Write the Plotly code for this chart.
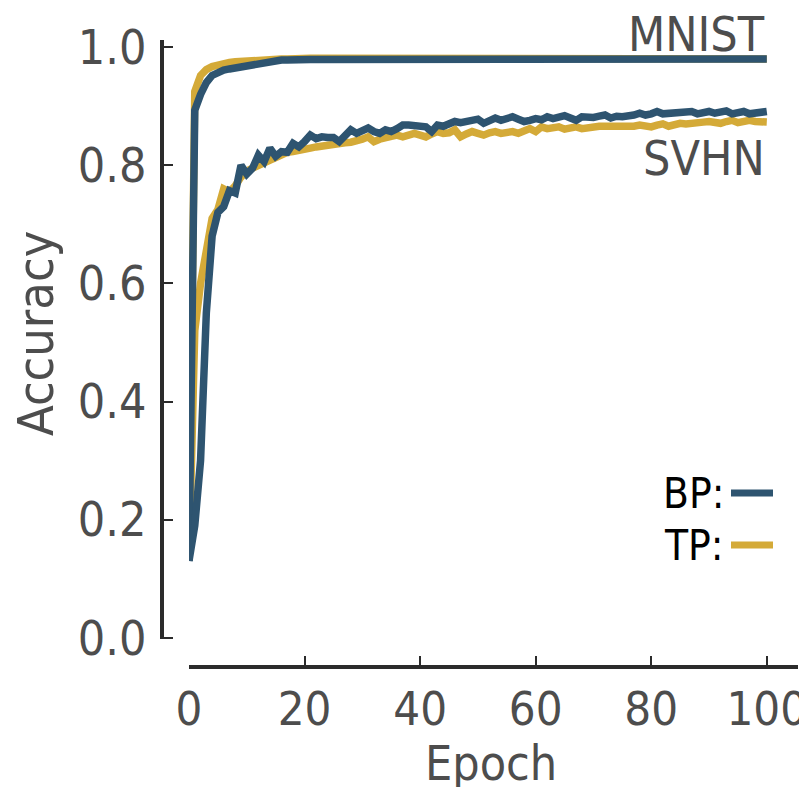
import plotly.graph_objects as go

epochs = list(range(101))

mnist_bp = [0.13, 0.893, 0.920, 0.940, 0.952, 0.958, 0.961, 0.963, 0.965, 0.966,
            0.967, 0.969, 0.971, 0.973, 0.975, 0.977, 0.978, 0.978, 0.979, 0.979,
            0.979, 0.979, 0.979, 0.979, 0.980, 0.980, 0.980, 0.980, 0.980, 0.980,
            0.980, 0.980, 0.980, 0.980, 0.980, 0.980, 0.980, 0.980, 0.980, 0.980,
            0.980, 0.980, 0.980, 0.980, 0.980, 0.980, 0.980, 0.980, 0.980, 0.980,
            0.980, 0.980, 0.980, 0.980, 0.980, 0.980, 0.980, 0.980, 0.980, 0.980,
            0.980, 0.980, 0.980, 0.980, 0.980, 0.980, 0.980, 0.980, 0.980, 0.980,
            0.980, 0.980, 0.980, 0.980, 0.980, 0.980, 0.980, 0.980, 0.980, 0.980,
            0.980, 0.980, 0.980, 0.980, 0.980, 0.980, 0.980, 0.980, 0.980, 0.980,
            0.980, 0.980, 0.980, 0.980, 0.980, 0.980, 0.980, 0.980, 0.980, 0.980,
            0.980]

mnist_tp = [0.13, 0.925, 0.952, 0.962, 0.967, 0.970, 0.972, 0.974, 0.975, 0.976,
            0.977, 0.978, 0.978, 0.978, 0.979, 0.979, 0.980, 0.980, 0.981, 0.981,
            0.981, 0.981, 0.981, 0.981, 0.981, 0.981, 0.981, 0.981, 0.980, 0.980,
            0.980, 0.980, 0.980, 0.980, 0.980, 0.980, 0.980, 0.980, 0.980, 0.980,
            0.980, 0.980, 0.980, 0.980, 0.980, 0.980, 0.980, 0.980, 0.980, 0.980,
            0.980, 0.980, 0.980, 0.980, 0.980, 0.980, 0.980, 0.980, 0.980, 0.980,
            0.980, 0.980, 0.980, 0.980, 0.980, 0.980, 0.980, 0.980, 0.980, 0.980,
            0.980, 0.980, 0.980, 0.980, 0.980, 0.980, 0.980, 0.980, 0.980, 0.980,
            0.980, 0.980, 0.980, 0.980, 0.980, 0.980, 0.980, 0.980, 0.980, 0.980,
            0.980, 0.980, 0.980, 0.980, 0.980, 0.980, 0.980, 0.980, 0.980, 0.980,
            0.980]

svhn_bp = [0.13, 0.19, 0.30, 0.55, 0.68, 0.72, 0.73, 0.757, 0.753, 0.800,
           0.785, 0.795, 0.817, 0.806, 0.829, 0.815, 0.823, 0.822, 0.837, 0.831,
           0.840, 0.851, 0.845, 0.848, 0.847, 0.847, 0.840, 0.852, 0.860, 0.854,
           0.860, 0.863, 0.857, 0.854, 0.860, 0.857, 0.862, 0.868, 0.868, 0.868,
           0.867, 0.865, 0.857, 0.868, 0.866, 0.869, 0.874, 0.872, 0.875, 0.876,
           0.878, 0.871, 0.876, 0.880, 0.876, 0.879, 0.882, 0.878, 0.874, 0.876,
           0.879, 0.877, 0.882, 0.879, 0.880, 0.884, 0.880, 0.876, 0.882, 0.881,
           0.881, 0.883, 0.885, 0.880, 0.883, 0.882, 0.882, 0.885, 0.888, 0.885,
           0.887, 0.891, 0.887, 0.888, 0.889, 0.887, 0.889, 0.891, 0.887, 0.889,
           0.891, 0.888, 0.890, 0.892, 0.887, 0.889, 0.891, 0.887, 0.889, 0.889,
           0.891]

svhn_tp = [0.13, 0.52, 0.60, 0.65, 0.71, 0.725, 0.76, 0.755, 0.765, 0.780,
           0.790, 0.795, 0.800, 0.805, 0.810, 0.812, 0.818, 0.822, 0.823, 0.826,
           0.826, 0.829, 0.831, 0.833, 0.834, 0.835, 0.837, 0.838, 0.839, 0.840,
           0.844, 0.848, 0.840, 0.844, 0.848, 0.849, 0.851, 0.848, 0.851, 0.854,
           0.851, 0.848, 0.853, 0.857, 0.854, 0.855, 0.860, 0.848, 0.853, 0.857,
           0.854, 0.851, 0.855, 0.857, 0.854, 0.856, 0.857, 0.854, 0.859, 0.862,
           0.857, 0.865, 0.862, 0.864, 0.865, 0.861, 0.863, 0.865, 0.862, 0.864,
           0.865, 0.866, 0.866, 0.866, 0.867, 0.866, 0.864, 0.866, 0.868, 0.867,
           0.865, 0.868, 0.870, 0.866, 0.869, 0.871, 0.870, 0.870, 0.872, 0.873,
           0.874, 0.872, 0.871, 0.874, 0.876, 0.872, 0.874, 0.876, 0.874, 0.874,
           0.873]

x_ticks = [0, 20, 40, 60, 80, 100]
y_ticks = [0.0, 0.2, 0.4, 0.6, 0.8, 1.0]
y_tick_labels = ["0.0", "0.2", "0.4", "0.6", "0.8", "1.0"]

BP_COLOR = "#2e5470"
TP_COLOR = "#d4aa38"
TEXT_COLOR = "#4d4d4d"
AXIS_COLOR = "#2b2b2b"
FONT = "DejaVu Sans Condensed, DejaVu Sans"
FS = 48

fig = go.Figure()
for ys in (mnist_tp, svhn_tp):
    fig.add_trace(go.Scatter(x=epochs, y=ys, mode="lines",
                             line=dict(color=TP_COLOR, width=7.5), showlegend=False))
for ys in (mnist_bp, svhn_bp):
    fig.add_trace(go.Scatter(x=epochs, y=ys, mode="lines",
                             line=dict(color=BP_COLOR, width=7.5), showlegend=False))

# page body has an 8px margin: figure is drawn offset by (8, 8)
OFF = 8
W, H = 807 - OFF, 787 - OFF
# targets in page pixels
AX_Y_X = 162      # y-axis line x
AX_X_Y = 667      # x-axis line y
ml, mr, mt, mb = AX_Y_X - OFF, 807 - 798, 40 - OFF, 787 - AX_X_Y
pw, ph = W - ml - mr, H - mt - mb

def py(ypx):
    return (H - mb - (ypx - OFF)) / ph

def px(xpx):
    return ((xpx - OFF) - ml) / pw

fig.update_layout(
    width=W, height=H,
    margin=dict(l=ml, r=mr, t=mt, b=mb, autoexpand=False),
    paper_bgcolor="white", plot_bgcolor="white",
    font=dict(family=FONT, size=FS, color=TEXT_COLOR),
    xaxis=dict(domain=[px(189), 1], anchor="free", position=0, automargin=False,
               range=[0, 105.4], tickvals=x_ticks, ticks="inside", ticklen=9,
               tickwidth=1.5, tickcolor=AXIS_COLOR, showline=True, linewidth=4,
               linecolor=AXIS_COLOR, showgrid=False, zeroline=False,
               ticklabeloverflow="allow",
               tickfont=dict(family=FONT, size=47, color=TEXT_COLOR)),
    yaxis=dict(domain=[py(639), 1], anchor="free", position=0, automargin=False,
               range=[-0.002, 1.012], tickvals=y_ticks, ticktext=y_tick_labels,
               ticks="inside", ticklen=9, tickwidth=1.5, tickcolor=AXIS_COLOR,
               showline=True, linewidth=4, linecolor=AXIS_COLOR,
               showgrid=False, zeroline=False, ticklabelstandoff=4,
               ticklabeloverflow="allow",
               tickfont=dict(family=FONT, size=FS, color=TEXT_COLOR)),
)

# axis titles
fig.add_annotation(x=px(491), y=py(763), xref="paper", yref="paper", text="Epoch",
                   showarrow=False, xanchor="center", yanchor="middle",
                   font=dict(family=FONT, size=FS, color=TEXT_COLOR))
fig.add_annotation(x=px(36), y=py(333), xref="paper", yref="paper", text="Accuracy",
                   showarrow=False, xanchor="center", yanchor="middle", textangle=-90,
                   font=dict(family=FONT, size=50, color=TEXT_COLOR))

fig.add_annotation(x=px(767), y=py(34), xref="paper", yref="paper", text="MNIST",
                   showarrow=False, xanchor="right", yanchor="middle",
                   font=dict(family=FONT, size=FS, color=TEXT_COLOR))
fig.add_annotation(x=px(767), y=py(158), xref="paper", yref="paper", text="SVHN",
                   showarrow=False, xanchor="right", yanchor="middle",
                   font=dict(family=FONT, size=FS, color=TEXT_COLOR))

# legend
legend_items = [("BP:", BP_COLOR, 493), ("TP:", TP_COLOR, 545)]
for label, color, ypx in legend_items:
    fig.add_annotation(x=px(726), y=py(ypx), xref="paper", yref="paper",
                       text=label, showarrow=False, xanchor="right", yanchor="middle",
                       font=dict(family=FONT, size=42, color="black"))
    fig.add_shape(type="line", xref="paper", yref="paper",
                  x0=px(731), x1=px(773), y0=py(ypx), y1=py(ypx),
                  line=dict(color=color, width=7))

fig.write_html("out.html")
